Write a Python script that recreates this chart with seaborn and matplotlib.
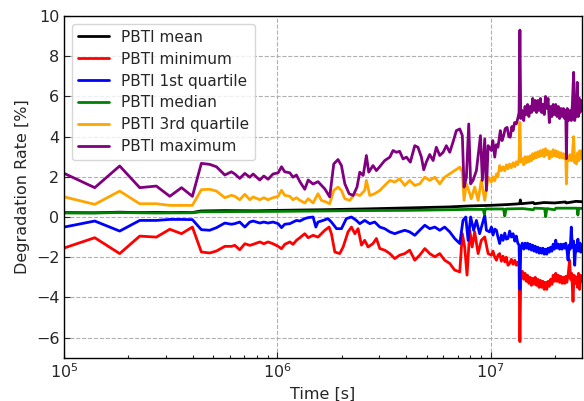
import numpy as np
import pandas as pd
import seaborn as sns
import matplotlib
matplotlib.use("Agg")
import matplotlib.pyplot as plt

series_names = ["PBTI mean", "PBTI minimum", "PBTI 1st quartile",
                "PBTI median", "PBTI 3rd quartile", "PBTI maximum"]
series_colors = ["black", "red", "blue", "green", "orange", "purple"]

logt_mean = [5.0, 5.14, 5.26, 5.35, 5.43, 5.5, 5.55, 5.6, 5.64, 5.75, 5.9, 6.0, 6.2,
             6.4, 6.6, 6.8, 6.9, 7.0, 7.08, 7.136, 7.139, 7.142, 7.2, 7.205, 7.25,
             7.3, 7.35, 7.355, 7.4, 7.428]
v_mean = [0.22, 0.21, 0.24, 0.22, 0.23, 0.22, 0.23, 0.22, 0.3, 0.32, 0.31, 0.33, 0.36,
          0.4, 0.45, 0.5, 0.55, 0.58, 0.62, 0.66, 0.85, 0.66, 0.72, 0.66, 0.72,
          0.7, 0.75, 0.7, 0.78, 0.76]

logt_med = [5.0, 5.14, 5.26, 5.43, 5.6, 5.64, 5.8, 6.0, 6.2, 6.4, 6.6, 6.8, 6.9, 6.965,
            6.97, 6.975, 7.06, 7.066, 7.072, 7.15, 7.2, 7.205, 7.253, 7.258, 7.263,
            7.3, 7.305, 7.35, 7.405, 7.409, 7.413, 7.428]
v_med = [0.2, 0.2, 0.22, 0.2, 0.21, 0.26, 0.27, 0.28, 0.3, 0.32, 0.33, 0.36, 0.38, 0.38,
         0.15, 0.4, 0.4, 0.05, 0.4, 0.42, 0.36, 0.44, 0.42, 0.02, 0.42,
         0.36, 0.44, 0.44, 0.44, 0.1, 0.44, 0.42]

logt_max = [5.0, 5.143, 5.26, 5.354, 5.432, 5.495, 5.55, 5.601, 5.643, 5.682, 5.714,
            5.753, 5.784, 5.8, 5.823, 5.847, 5.87, 5.886, 5.917, 5.936, 5.956, 5.979,
            6.003, 6.019, 6.034, 6.058, 6.073, 6.089, 6.105, 6.128, 6.144, 6.167, 6.19,
            6.222, 6.245, 6.264, 6.284, 6.3, 6.316, 6.336, 6.355, 6.373, 6.386, 6.402,
            6.417, 6.428, 6.448, 6.464, 6.48, 6.503, 6.527, 6.542, 6.558, 6.573, 6.589,
            6.605, 6.623, 6.644, 6.659, 6.675, 6.686, 6.698, 6.714, 6.73, 6.745, 6.761,
            6.777, 6.792, 6.808, 6.823, 6.839, 6.855, 6.867, 6.875, 6.886, 6.897, 6.906,
            6.917, 6.933, 6.952, 6.961, 6.972, 6.98, 6.988,
            7.003, 7.01, 7.019, 7.026, 7.034, 7.04, 7.045, 7.053, 7.061, 7.068, 7.077,
            7.085, 7.092, 7.099, 7.105, 7.112, 7.12, 7.127, 7.133, 7.137, 7.141,
            7.148, 7.155, 7.161, 7.167, 7.173, 7.179, 7.185, 7.191, 7.197, 7.203,
            7.209, 7.215, 7.221, 7.227, 7.233, 7.239, 7.245, 7.251, 7.257, 7.263,
            7.269, 7.275, 7.281, 7.287, 7.293, 7.299, 7.305, 7.311, 7.317, 7.323,
            7.329, 7.335, 7.341, 7.347, 7.352, 7.355, 7.359, 7.365, 7.371, 7.378,
            7.383, 7.389, 7.394, 7.399, 7.402, 7.406, 7.411, 7.415, 7.419, 7.423, 7.428]
v_max = [2.17, 1.46, 2.54, 1.46, 1.54, 1.03, 1.46, 1.03, 2.67, 2.62, 2.5,
         2.09, 2.25, 2.14, 1.92, 2.17, 1.98, 2.14, 1.84, 2.04, 1.88, 2.14,
         2.2, 2.5, 2.25, 2.2, 1.98, 2.09, 1.76, 1.38, 1.84, 1.64, 1.76,
         1.4, 1.0, 2.64, 2.86, 2.56, 1.65, 1.16, 1.07, 1.49, 2.23, 2.07,
         3.06, 2.23, 2.56, 2.31, 2.51, 2.81, 2.98, 3.31, 3.22, 3.27, 2.89,
         2.98, 2.73, 3.55, 3.47, 2.98, 2.35, 2.73, 3.11, 2.81, 3.47, 3.06,
         3.22, 3.55, 3.22, 3.72, 4.3, 4.38, 4.05, 1.49, 1.98, 4.63, 1.65,
         1.82, 2.31, 4.05, 1.82, 3.88, 1.32, 3.55,
         3.31, 3.8, 2.98, 3.6, 3.47, 3.9, 4.3, 3.8, 4.05, 4.4, 4.46,
         4.0, 3.97, 4.5, 4.3, 4.7, 4.63, 4.9, 5.2, 9.3, 4.9,
         5.3, 4.8, 5.5, 5.1, 5.6, 5.0, 5.5, 5.2, 5.9, 5.3,
         5.8, 5.2, 5.8, 5.3, 5.9, 5.2, 5.6, 5.1, 6.0, 5.4,
         5.9, 4.7, 5.5, 5.0, 5.6, 5.1, 5.6, 5.0, 5.5, 4.9,
         5.4, 5.0, 5.4, 4.9, 5.3, 2.9, 5.4, 4.8, 5.3, 4.8,
         5.6, 7.2, 4.8, 5.4, 5.0, 6.7, 5.0, 5.9, 5.2, 5.8, 5.3]

logt_q3 = [5.0, 5.143, 5.26, 5.354, 5.432, 5.495, 5.55, 5.601, 5.643, 5.682, 5.714,
           5.753, 5.784, 5.8, 5.823, 5.847, 5.87, 5.886, 5.917, 5.936, 5.956, 5.979,
           6.003, 6.019, 6.034, 6.058, 6.073, 6.089, 6.105, 6.128, 6.144, 6.167, 6.19,
           6.206, 6.23, 6.245, 6.264, 6.284, 6.3, 6.316, 6.339, 6.363, 6.386, 6.409,
           6.417, 6.433, 6.456, 6.48, 6.503, 6.527, 6.55, 6.573, 6.597, 6.62, 6.644,
           6.667, 6.691, 6.714, 6.738, 6.761, 6.784, 6.808, 6.831, 6.855, 6.867, 6.875,
           6.886, 6.897, 6.909, 6.925, 6.941, 6.956, 6.972, 6.988,
           7.003, 7.01, 7.019, 7.027, 7.034, 7.042, 7.05, 7.058, 7.066, 7.074, 7.081,
           7.089, 7.097, 7.105, 7.113, 7.12, 7.127, 7.133, 7.137, 7.141,
           7.148, 7.155, 7.161, 7.167, 7.173, 7.179, 7.185, 7.191, 7.197, 7.203,
           7.209, 7.215, 7.221, 7.227, 7.233, 7.239, 7.245, 7.251, 7.257, 7.263,
           7.269, 7.275, 7.281, 7.287, 7.293, 7.299, 7.305, 7.311, 7.317, 7.323,
           7.329, 7.335, 7.341, 7.347, 7.352, 7.355, 7.359, 7.365, 7.371, 7.378,
           7.383, 7.389, 7.394, 7.399, 7.402, 7.408, 7.413, 7.417, 7.423, 7.428]
v_q3 = [1.0, 0.63, 1.29, 0.66, 0.66, 0.58, 0.58, 0.58, 1.36, 1.38, 1.29,
        0.96, 1.08, 1.03, 0.86, 1.13, 0.86, 1.0, 0.86, 0.96, 0.86, 0.96,
        1.03, 1.33, 1.08, 1.03, 0.86, 0.96, 0.83, 0.7, 0.91, 0.7, 1.16,
        0.83, 0.74, 0.66, 1.32, 1.49, 1.32, 0.91, 0.83, 1.16, 1.07, 1.32,
        1.82, 1.07, 1.16, 1.32, 1.57, 1.82, 1.74, 1.9, 1.57, 1.82, 1.57,
        1.65, 1.98, 1.82, 1.98, 1.65, 1.98, 2.15, 2.31, 2.48, 2.23, 0.83,
        1.65, 1.32, 0.91, 1.49, 0.83, 1.82, 0.83, 1.98,
        1.74, 2.0, 1.8, 2.15, 2.0, 2.56, 2.3, 2.5, 2.3, 2.6, 2.4,
        2.64, 2.45, 2.7, 2.5, 2.75, 2.6, 2.89, 4.71, 2.73,
        2.9, 2.6, 3.0, 2.7, 3.0, 2.75, 3.05, 2.8, 3.15, 2.9,
        3.2, 2.95, 3.25, 3.0, 3.3, 3.05, 3.35, 3.0, 3.4, 3.1,
        3.3, 2.9, 3.25, 3.0, 3.35, 3.05, 3.3, 3.0, 3.25, 2.95,
        3.2, 2.95, 3.15, 2.9, 3.1, 1.65, 3.0, 2.8, 3.1, 2.8,
        3.1, 4.0, 2.7, 3.0, 2.64, 3.2, 2.8, 3.3, 2.9, 3.3]

logt_q1 = [5.0, 5.143, 5.26, 5.354, 5.432, 5.495, 5.55, 5.601, 5.643, 5.682, 5.714,
           5.753, 5.784, 5.8, 5.823, 5.847, 5.87, 5.886, 5.917, 5.936, 5.956, 5.979,
           6.003, 6.019, 6.034, 6.058, 6.073, 6.089, 6.105, 6.128, 6.144, 6.167, 6.18,
           6.19, 6.214, 6.237, 6.253, 6.277, 6.3, 6.323, 6.347, 6.37, 6.386, 6.409,
           6.433, 6.456, 6.48, 6.503, 6.527, 6.55, 6.573, 6.597, 6.62, 6.644, 6.667,
           6.691, 6.714, 6.738, 6.761, 6.784, 6.808, 6.831, 6.855, 6.87, 6.883, 6.894,
           6.906, 6.92, 6.933, 6.948, 6.972, 6.98,
           6.995, 7.003, 7.011, 7.019, 7.027, 7.034, 7.042, 7.05, 7.058, 7.066, 7.073,
           7.081, 7.089, 7.097, 7.105, 7.113, 7.12, 7.127, 7.133, 7.137, 7.141,
           7.148, 7.155, 7.161, 7.167, 7.173, 7.179, 7.185, 7.191, 7.197, 7.203,
           7.209, 7.215, 7.221, 7.227, 7.233, 7.239, 7.245, 7.251, 7.257, 7.263,
           7.269, 7.275, 7.281, 7.287, 7.293, 7.299, 7.305, 7.311, 7.317, 7.323,
           7.329, 7.335, 7.341, 7.347, 7.352, 7.357, 7.363, 7.368, 7.373, 7.378,
           7.383, 7.389, 7.394, 7.399, 7.404, 7.409, 7.414, 7.419, 7.423, 7.428]
v_q1 = [-0.5, -0.2, -0.7, -0.17, -0.17, -0.12, -0.12, -0.13, -0.63, -0.66, -0.53,
        -0.3, -0.36, -0.33, -0.25, -0.5, -0.25, -0.2, -0.3, -0.25, -0.3, -0.25,
        -0.33, -0.53, -0.36, -0.33, -0.25, -0.17, -0.2, -0.08, -0.03, 0.0, -0.5,
        -0.25, -0.17, -0.08, -0.25, -0.58, -0.58, -0.08, 0.0, -0.17, -0.33, -0.17,
        -0.33, -0.25, -0.5, -0.58, -0.74, -0.83, -0.74, -0.66, -0.74, -0.91, -0.66,
        -0.41, -0.58, -0.5, -0.66, -0.5, -0.74, -1.07, -1.32, -0.17, 0.0, -1.16,
        0.0, -0.66, -0.17, -0.83, 0.08, -0.66,
        -0.74, -0.5, -0.9, -0.6, -0.66, -1.0, -1.32, -0.9, -1.16, -0.8, -1.1,
        -1.07, -0.7, -1.0, -0.83, -1.2, -0.95, -1.3, -1.4, -3.6, -1.6,
        -1.3, -1.6, -1.3, -1.55, -1.3, -1.6, -1.35, -1.65, -1.4, -1.7,
        -1.45, -1.75, -1.5, -1.8, -1.55, -1.8, -1.55, -1.85, -1.6, -1.85,
        -1.55, -1.75, -1.5, -1.7, -1.35, -1.6, -1.15, -1.55, -1.35, -1.6,
        -1.35, -1.6, -1.35, -1.55, -1.3, -1.6, -2.15, -1.4, -1.6, -0.5,
        -1.5, -1.2, -2.4, -1.4, -1.7, -1.1, -1.7, -1.3, -1.75, -1.4]

logt_min = [5.0, 5.143, 5.26, 5.354, 5.432, 5.495, 5.55, 5.601, 5.643, 5.682, 5.714,
            5.753, 5.784, 5.8, 5.823, 5.847, 5.87, 5.886, 5.917, 5.936, 5.956, 5.979,
            6.003, 6.019, 6.034, 6.058, 6.073, 6.089, 6.105, 6.128, 6.144, 6.167, 6.19,
            6.222, 6.242, 6.253, 6.269, 6.292, 6.308, 6.331, 6.347, 6.363, 6.378, 6.394,
            6.409, 6.425, 6.448, 6.464, 6.48, 6.503, 6.527, 6.55, 6.573, 6.597, 6.62,
            6.644, 6.667, 6.691, 6.714, 6.738, 6.761, 6.784, 6.808, 6.831, 6.855, 6.867,
            6.878, 6.889, 6.902, 6.913, 6.925, 6.941, 6.956, 6.972, 6.988,
            7.003, 7.011, 7.019, 7.027, 7.034, 7.042, 7.05, 7.058, 7.066, 7.073, 7.081,
            7.089, 7.097, 7.105, 7.113, 7.12, 7.127, 7.133, 7.137, 7.141,
            7.148, 7.155, 7.161, 7.167, 7.173, 7.179, 7.185, 7.191, 7.197, 7.203,
            7.209, 7.215, 7.221, 7.227, 7.233, 7.239, 7.245, 7.251, 7.257, 7.263,
            7.269, 7.275, 7.281, 7.287, 7.293, 7.299, 7.305, 7.311, 7.317, 7.323,
            7.329, 7.335, 7.341, 7.347, 7.352, 7.357, 7.363, 7.37, 7.375, 7.38,
            7.386, 7.391, 7.396, 7.402, 7.407, 7.412, 7.417, 7.422, 7.428]
v_min = [-1.54, -1.03, -1.82, -0.95, -1.0, -0.61, -0.83, -0.5, -1.74, -1.79, -1.69,
         -1.46, -1.46, -1.41, -1.63, -1.33, -1.41, -1.36, -1.24, -1.33, -1.24, -1.33,
         -1.46, -1.58, -1.36, -1.24, -1.36, -1.16, -1.03, -0.83, -1.03, -0.91, -1.0,
         -0.66, -0.5, -0.83, -1.74, -1.82, -1.49, -0.74, -0.5, -0.83, -0.58, -1.4,
         -1.16, -1.49, -1.32, -1.07, -1.57, -1.65, -1.82, -2.07, -1.9, -1.82, -1.65,
         -2.15, -1.9, -1.57, -1.82, -1.98, -1.82, -2.15, -2.31, -2.64, -2.73, -0.83,
         -1.49, -2.89, -0.66, -1.49, -0.74, -1.82, -1.16, -0.99, -1.82,
         -1.9, -1.7, -2.0, -2.15, -1.9, -1.82, -2.2, -1.95, -2.23, -2.0, -2.4,
         -2.31, -2.1, -2.35, -2.15, -2.4, -2.25, -2.48, -6.2, -2.98,
         -2.7, -3.1, -2.8, -3.2, -2.9, -3.3, -3.0, -3.4, -3.05, -3.35,
         -3.0, -3.4, -3.1, -3.5, -3.15, -3.5, -3.2, -3.6, -3.25, -3.6,
         -3.2, -3.45, -3.1, -3.35, -2.9, -3.2, -2.8, -3.2, -2.9, -3.25,
         -2.95, -3.3, -3.0, -3.3, -2.95, -3.25, -2.9, -2.15, -3.1, -2.8,
         -4.2, -2.9, -3.3, -2.98, -3.5, -2.8, -3.6, -2.9, -3.2]

series_logt = [logt_mean, logt_min, logt_q1, logt_med, logt_q3, logt_max]
series_vals = [v_mean, v_min, v_q1, v_med, v_q3, v_max]

frames = []
for name, lt, vv in zip(series_names, series_logt, series_vals):
    assert len(lt) == len(vv), (name, len(lt), len(vv))
    frames.append(pd.DataFrame({"Time": 10 ** np.asarray(lt, dtype=float),
                                "Rate": vv, "Series": name}))
df = pd.concat(frames, ignore_index=True)

# ---- plot ----
sns.set_style("ticks", {"xtick.direction": "in", "ytick.direction": "in"})
plt.rcParams["font.family"] = ["DejaVu Sans"]

fig = plt.figure(figsize=(5.84, 4.01), dpi=100)
ax = fig.add_axes([0.110, 0.108, 0.8865, 0.852])

sns.lineplot(data=df, x="Time", y="Rate", hue="Series", hue_order=series_names,
             palette=dict(zip(series_names, series_colors)), estimator=None,
             sort=False, linewidth=2, ax=ax)

ax.set_xscale("log")
ax.set_xlim(1e5, 10 ** 7.428)
ax.set_ylim(-7, 10)
ax.set_yticks([-6, -4, -2, 0, 2, 4, 6, 8, 10])
ax.grid(True, which="major", linestyle="--", color="#b0b0b0", linewidth=0.8)
ax.tick_params(axis="both", which="major", labelsize=11.5, length=4, width=0.8)
ax.tick_params(axis="x", which="minor", length=2.5, width=0.8)
for s in ax.spines.values():
    s.set_linewidth(1.0)
    s.set_color("black")
ax.set_xlabel("Time [s]", fontsize=11.5)
ax.set_ylabel("Degradation Rate [%]", fontsize=11.5)

handles, labels = ax.get_legend_handles_labels()
ax.legend(handles, labels, loc="upper left", fontsize=11, frameon=True,
          framealpha=0.8, edgecolor="#cccccc", handlelength=2.0,
          borderaxespad=0.5, labelspacing=0.45)

fig.savefig("out.png", dpi=100)
